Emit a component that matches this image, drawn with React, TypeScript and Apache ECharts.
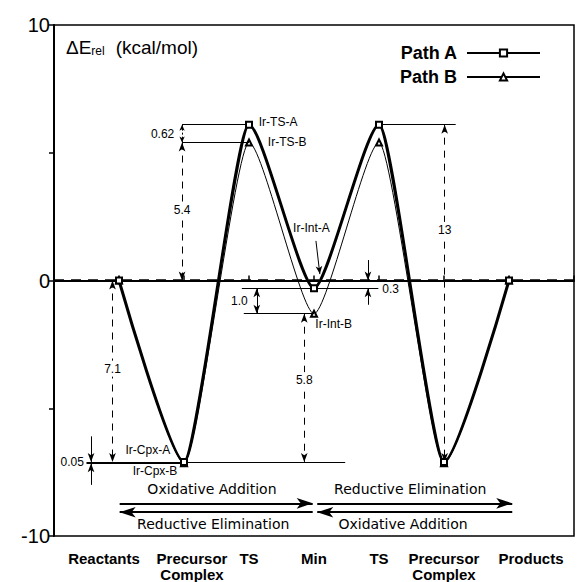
import React, { useEffect, useRef } from 'react';
import * as echarts from 'echarts';

// ---------- data ----------
const categories = ['Reactants', 'Precursor\nComplex', 'TS', 'Min', 'TS', 'Precursor\nComplex', 'Products'];
const positions = [1, 2, 3, 4, 5, 6, 7];
const pathA = [0, -7.1, 6.1, -0.3, 6.1, -7.1, 0];
const pathB = [0, -7.15, 5.4, -1.3, 5.4, -7.15, 0];
const yTickLabels = [-10, 0, 10];

const sans = '"Liberation Sans", Arial, Helvetica, sans-serif';
const dejavu = '"DejaVu Sans", sans-serif';

// label shifts (padding left/right, px) so the category names sit as in the figure
const catPad: [number, number][] = [[0, 30], [16, 0], [0, 0], [0, 0], [0, 0], [0, 0], [44, 0]];

// ---------- annotations (data coordinates) ----------
type Note = { text: string; x: number; y: number; align?: string; size?: number; font?: string; bg?: boolean };
const notes: Note[] = [
  { text: 'Ir-TS-A', x: 3.15, y: 6.2, align: 'left' },
  { text: 'Ir-TS-B', x: 3.29, y: 5.43, align: 'left' },
  { text: 'Ir-Int-A', x: 3.96, y: 2.05 },
  { text: 'Ir-Int-B', x: 4.02, y: -1.7, align: 'left' },
  { text: 'Ir-Cpx-A', x: 1.1, y: -6.63, align: 'left' },
  { text: 'Ir-Cpx-B', x: 1.21, y: -7.44, align: 'left' },
  { text: '0.62', x: 1.85, y: 5.75, align: 'right' },
  { text: '5.4', x: 1.97, y: 2.75, bg: true },
  { text: '7.1', x: 0.9, y: -3.45, bg: true },
  { text: '1.0', x: 2.98, y: -0.8, align: 'right' },
  { text: '0.3', x: 5.05, y: -0.35, align: 'left' },
  { text: '5.8', x: 3.85, y: -3.9, bg: true },
  { text: '13', x: 6.01, y: 1.98, bg: true },
  { text: '0.05', x: 0.46, y: -7.12, align: 'right' },
  { text: 'Oxidative Addition', x: 2.43, y: -8.18, size: 14, font: dejavu },
  { text: 'Reductive Elimination', x: 2.45, y: -9.53, size: 14, font: dejavu },
  { text: 'Reductive Elimination', x: 5.48, y: -8.18, size: 14, font: dejavu },
  { text: 'Oxidative Addition', x: 5.37, y: -9.53, size: 14, font: dejavu },
];

type Seg = [number, number, number, number];
const refLines: Seg[] = [
  [1.97, 6.1, 3, 6.1],
  [5, 6.1, 6.18, 6.1],
  [1.97, 5.4, 3, 5.4],
  [0.5, -7.1, 4.48, -7.1],
  [0.5, -7.15, 2, -7.15],
  [2.89, -0.3, 4.99, -0.3],
  [2.92, -1.3, 4, -1.3],
];
const dimArrows: Seg[] = [
  [1.97, 5.4, 1.97, 0],
  [0.9, 0, 0.9, -7.1],
  [3.85, -1.3, 3.85, -7.1],
  [6.01, 6.1, 6.01, -7.1],
];
const smallArrows: Seg[] = [
  [0.57, -6.1, 0.57, -7.1],
  [0.57, -8.0, 0.57, -7.15],
  [4.83, 0.8, 4.83, 0],
  [4.83, -0.95, 4.83, -0.3],
];
const doubleArrows: Seg[] = [
  [3.12, -0.3, 3.12, -1.3],
];
const dottedArrows: Seg[] = [
  [1.97, 6.1, 1.97, 5.4],
];
const directionArrows: Seg[] = [
  [1.01, -8.72, 3.98, -8.72],
  [3.98, -9.07, 1.01, -9.07],
  [4.05, -8.72, 7.05, -8.72],
  [7.05, -9.07, 4.05, -9.07],
];
const curlArrow: Seg = [4.03, 1.55, 4.09, 0.25];

function segData(segs: Seg[], s0: string, s1: string, size?: any) {
  return segs.map(([x1, y1, x2, y2]) => [
    { coord: [x1, y1], symbol: s0, symbolSize: size },
    { coord: [x2, y2], symbol: s1, symbolSize: size },
  ]);
}

function helper(name: string, lineStyle: any, data: any[]) {
  return {
    name,
    type: 'line',
    data: [],
    silent: true,
    z: 3,
    markLine: {
      silent: true,
      animation: false,
      symbol: ['none', 'none'],
      label: { show: false },
      emphasis: { disabled: true },
      lineStyle: { color: '#000', ...lineStyle },
      data,
    },
  };
}

const catRich: any = {};
catPad.forEach(([l, r], i) => {
  catRich['c' + i] = {
    fontSize: 15,
    fontWeight: 'bold',
    fontFamily: sans,
    color: '#000',
    lineHeight: 16,
    padding: [0, r, 0, l],
  };
});

const option: any = {
  animation: false,
  backgroundColor: '#fff',
  title: {
    text: '{a|ΔE}{b|rel}{c|(kcal/mol)}',
    left: 61,
    top: 30,
    textStyle: {
      fontWeight: 'normal',
      rich: {
        a: { fontSize: 19, fontFamily: sans, fontWeight: 'normal', color: '#000', verticalAlign: 'bottom', lineHeight: 22 },
        b: { fontSize: 12, fontFamily: sans, fontWeight: 'normal', color: '#000', verticalAlign: 'bottom', lineHeight: 20 },
        c: { fontSize: 19, fontFamily: sans, fontWeight: 'normal', color: '#000', verticalAlign: 'bottom', lineHeight: 22, padding: [0, 0, 0, 11] },
      },
    },
  },
  legend: {
    data: ['Path A', 'Path B'],
    orient: 'vertical',
    right: 31,
    top: 39,
    align: 'right',
    itemWidth: 73,
    itemHeight: 9,
    itemGap: 6,
    selectedMode: false,
    textStyle: { fontSize: 18, fontWeight: 'bold', fontFamily: sans, color: '#000', padding: [0, 5, 0, 0] },
  },
  grid: {
    left: 54,
    right: 1,
    top: 25,
    bottom: 41,
    show: true,
    borderColor: '#000',
    borderWidth: 1.5,
    backgroundColor: 'transparent',
  },
  xAxis: {
    type: 'value',
    min: 0,
    max: 8,
    interval: 1,
    splitLine: { show: false },
    axisLine: { lineStyle: { color: '#000', width: 2 } },
    axisTick: { inside: true, length: 5, lineStyle: { color: '#000', width: 1.5 } },
    axisLabel: {
      formatter: (v: number) => {
        const i = positions.indexOf(v);
        if (i < 0) return '';
        return categories[i]
          .split('\n')
          .map((s) => `{c${i}|${s}}`)
          .join('\n');
      },
      rich: catRich,
      fontSize: 15,
      fontWeight: 'bold',
      fontFamily: sans,
      color: '#000',
      lineHeight: 16,
      margin: 14,
    },
  },
  yAxis: {
    type: 'value',
    min: -10,
    max: 10,
    interval: 5,
    splitLine: { show: false },
    axisLine: { lineStyle: { color: '#000', width: 2 } },
    axisTick: { length: 5, lineStyle: { color: '#000', width: 1.5 } },
    axisLabel: {
      formatter: (v: number) => (yTickLabels.includes(v) ? String(v) : ''),
      fontSize: 20,
      fontFamily: sans,
      color: '#000',
      margin: 4,
    },
  },
  series: [
    helper('zero', { type: [10, 7], width: 2.5 }, [[{ coord: [0, 0] }, { coord: [8, 0] }]]),
    helper('refs', { type: 'solid', width: 1 }, segData(refLines, 'none', 'none')),
    helper('dims', { type: [7, 6], width: 1 }, segData(dimArrows, 'arrow', 'arrow', [5, 9])),
    helper('small', { type: 'solid', width: 1 }, segData(smallArrows, 'none', 'arrow', [5, 9])),
    helper('double', { type: 'solid', width: 1 }, segData(doubleArrows, 'arrow', 'arrow', [5, 9])),
    helper('dotted', { type: [2, 2], width: 1 }, segData(dottedArrows, 'arrow', 'arrow', [4, 6])),
    helper('dirs', { type: 'solid', width: 2 }, segData(directionArrows, 'none', 'arrow', [8, 16])),
    helper('curl', { type: 'solid', width: 1, curveness: -0.35 }, segData([curlArrow], 'none', 'arrow', [5, 8])),
    {
      name: 'Path B',
      type: 'line',
      z: 4,
      data: positions.map((x, i) => [x, pathB[i]]),
      smooth: 0.2,
      smoothMonotone: 'x',
      symbol: 'emptyTriangle',
      symbolSize: 6,
      showAllSymbol: true,
      lineStyle: { color: '#000', width: 1 },
      itemStyle: { color: '#000', borderWidth: 1 },
      emphasis: { disabled: true },
    },
    {
      name: 'Path A',
      type: 'line',
      z: 5,
      data: positions.map((x, i) => [x, pathA[i]]),
      smooth: 0.2,
      smoothMonotone: 'x',
      symbol: 'emptyRect',
      symbolSize: 6,
      showAllSymbol: true,
      lineStyle: { color: '#000', width: 3 },
      itemStyle: { color: '#000', borderWidth: 1 },
      emphasis: { disabled: true },
    },
    {
      name: 'notes',
      type: 'custom',
      z: 10,
      silent: true,
      clip: false,
      data: notes.map((n) => [n.x, n.y]),
      encode: { x: 0, y: 1 },
      renderItem: (params: any, api: any) => {
        const n = notes[params.dataIndex];
        const p = api.coord([api.value(0), api.value(1)]);
        const style: any = {
          text: n.text,
          fill: '#000',
          fontSize: n.size || 12,
          fontFamily: n.font || sans,
          align: n.align || 'center',
          verticalAlign: 'middle',
        };
        if (n.bg) {
          style.backgroundColor = '#fff';
          style.padding = [2, 1];
        }
        return { type: 'text', x: p[0], y: p[1], style };
      },
    },
  ],
};

export default function App() {
  const ref = useRef<HTMLDivElement>(null);
  useEffect(() => {
    const chart = echarts.init(ref.current!, null, { renderer: 'svg' });
    chart.setOption(option);
    return () => chart.dispose();
  }, []);
  return <div ref={ref} style={{ width: 577, height: 582, position: 'absolute', left: 0, top: 0 }} />;
}
